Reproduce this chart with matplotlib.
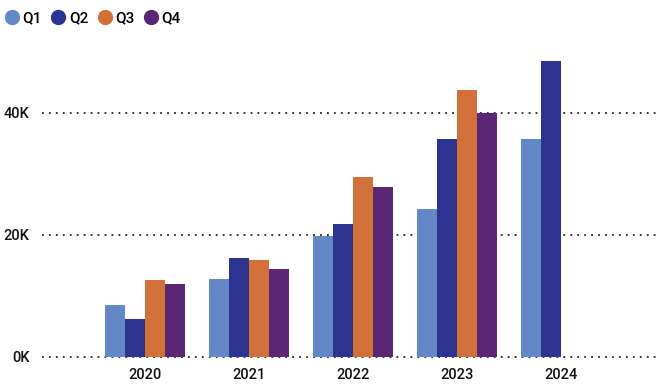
import matplotlib
matplotlib.use("Agg")
import matplotlib.pyplot as plt
from matplotlib.lines import Line2D
import numpy as np

years = ["2020", "2021", "2022", "2023", "2024"]
series_names = ["Q1", "Q2", "Q3", "Q4"]
q1 = [8500, 12800, 19800, 24300, 35800]
q2 = [6200, 16200, 21800, 35700, 48500]
q3 = [12600, 15900, 29500, 43800, np.nan]
q4 = [12000, 14400, 27900, 40000, np.nan]
colors = ["#6487C6", "#2C3391", "#D2703A", "#5B2676"]
yticks = [0, 20000, 40000]
ytick_labels = ["0K", "20K", "40K"]

plt.rcParams['font.family'] = ['Roboto', 'DejaVu Sans']

W, H = 663, 386
fig = plt.figure(figsize=(W / 100, H / 100), dpi=100)
left, right, bottom, top = 42, 660, 357, 52
ax = fig.add_axes([left / W, (H - bottom) / H, (right - left) / W, (bottom - top) / H])

x = np.arange(len(years))
bw = 0.192
data = [q1, q2, q3, q4]
for i, (vals, c, name) in enumerate(zip(data, colors, series_names)):
    ax.bar(x + (i - 1.5) * bw, vals, width=bw, color=c, label=name, zorder=3)

ax.set_xlim(-0.99, 4.95)
ax.set_ylim(0, 50000)
ax.set_yticks(yticks)
ax.set_yticklabels(ytick_labels)
ax.set_xticks(x)
ax.set_xticklabels(years)
for s in ax.spines.values():
    s.set_visible(False)
ax.tick_params(axis='both', length=0, labelsize=10.5, colors='#111111')
ax.tick_params(axis='y', pad=9)
ax.tick_params(axis='x', pad=8)
for lab in ax.get_xticklabels() + ax.get_yticklabels():
    lab.set_fontweight('medium')
ax.yaxis.grid(True, linestyle=(0, (1, 2.85)), color='#222222', linewidth=1.3, zorder=0)
for gl in ax.get_ygridlines():
    gl.set_clip_on(False)
ax.set_axisbelow(True)

handles = [Line2D([0], [0], marker='o', linestyle='none', markersize=10,
                  markerfacecolor=c, markeredgecolor=c) for c in colors]
fig.legend(handles, series_names, loc='upper left', bbox_to_anchor=(0.0066, 0.970),
           ncol=4, frameon=False, handletextpad=0.2, columnspacing=0.57,
           handlelength=1.0, borderaxespad=0, borderpad=0,
           prop={'size': 11, 'weight': 'medium'})

fig.savefig("out.png", dpi=100)
